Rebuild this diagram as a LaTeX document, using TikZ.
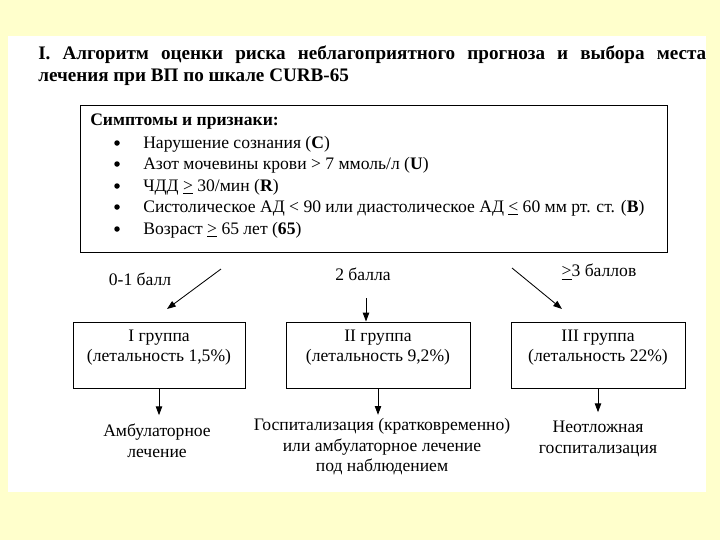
\documentclass[tikz,border=0pt]{standalone}
\usepackage{fontspec}
\setmainfont{Liberation Serif}
\usepackage{xcolor}
\usepackage{tikz}
\usetikzlibrary{arrows.meta, positioning}
\definecolor{curb_paper}{RGB}{255, 255, 204}

\begin{document}
\begin{tikzpicture}[x=0.025cm, y=-0.025cm,
            font=\fontsize{12.5}{14.6}\selectfont,
            txt/.style={inner sep=0pt},
            frame/.style={draw, line width=0.7pt},
            dot/.style={circle, fill, inner sep=0pt, minimum size=5.5*0.025cm},
            grp/.style={frame, minimum width=#1*0.025cm, minimum height=66*0.025cm},
            arr/.style={-{Triangle[length=2.2mm, width=1.6mm]}, line width=0.6pt}]
            % paper and page
            \fill[curb_paper] (0,0) rectangle (720,540);
            \fill[white] (8,36) rectangle (706,492);
            \useasboundingbox (0,0) rectangle (720,540);
            % title
            \node[txt, anchor=north west, text width=668*0.025cm, align=justify,
              font=\fontsize{13.6}{15.6}\selectfont\bfseries] (title) at (38,46)
              {I. Алгоритм оценки риска неблагоприятного прогноза и выбора места\linebreak
               лечения при ВП по шкале CURB-65};
            % symptoms
            \node[frame, minimum width=587*0.025cm, minimum height=147*0.025cm] (signs)
              at (373.5,178.5) {};
            \node[txt, anchor=west, font=\fontsize{12.5}{14.6}\selectfont\bfseries] (head)
              at (90,122) {Симптомы и признаки:};
            \foreach \y/\t [count=\i] in {
                144/{Нарушение сознания (\textbf{C})},
                165/{Азот мочевины крови > 7 ммоль/л (\textbf{U})},
                187/{ЧДД \underline{>} 30/мин (\textbf{R})},
                208/{Систолическое АД < 90 или диастолическое АД \underline{<} 60 мм рт. ст. (\textbf{B})},
                230/{Возраст \underline{>} 65 лет (\textbf{65})}} {
              \node[dot] (dot\i) at (117,\y-1) {};
              \node[txt, anchor=west] (item\i) at (143,\y) {\t};
            }
            % scores
            \node[txt] (s1) at (140,279) {0-1 балл};
            \node[txt] (s2) at (363,274) {2 балла};
            \node[txt] (s3) at (599,272) {\underline{>}3 баллов};
            % groups
            \node[grp=172] (gA) at (159,355) {};
            \node[grp=184] (gB) at (378,355) {};
            \node[grp=174] (gC) at (598,355) {};
            \node[txt, align=center] (gAt) at (159,347.5) {I группа\\(летальность 1,5\%)};
            \node[txt, align=center] (gBt) at (378,347.5) {II группа\\(летальность 9,2\%)};
            \node[txt, align=center] (gCt) at (598,347.5) {III группа\\(летальность 22\%)};
            % where to treat
            \node[txt, align=center, anchor=north] (rA) at (157,424) {Амбулаторное\\лечение};
            \node[txt, align=center, anchor=north] (rB) at (382,418)
              {Госпитализация (кратковременно)\\или амбулаторное лечение\\под наблюдением};
            \node[txt, align=center, anchor=north] (rC) at (598,421) {Неотложная\\госпитализация};
            % arrows
            \coordinate (aL) at (221,269);
            \coordinate (aLe) at (167,309);
            \coordinate (aM) at (366,298);
            \coordinate (aR) at (512,268);
            \coordinate (aRe) at (562,309);
            \draw[arr] (aL) -- (aLe);
            \draw[arr] (aM) -- (aM |- gB.north);
            \draw[arr] (aR) -- (aRe);
            \draw[arr, shorten >=2.2mm] (gA.south) -- (gA.south |- rA.north);
            \draw[arr, shorten >=0.8mm] (gB.south) -- (gB.south |- rB.north);
            \draw[arr, shorten >=2.2mm] (gC.south) -- (gC.south |- rC.north);
          \end{tikzpicture}
\end{document}
